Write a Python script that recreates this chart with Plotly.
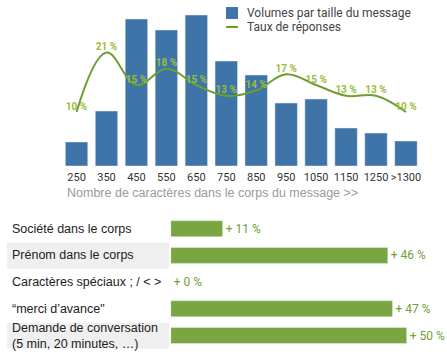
import plotly.graph_objects as go

# ---- data: top chart ----
sizes = ["250", "350", "450", "550", "650", "750", "850", "950", "1050", "1150", "1250", ">1300"]
volumes = [24, 55, 147, 136, 151, 105, 91, 63, 67, 38, 33, 25]
reply_rates = [10, 21, 15, 18, 15, 13, 14, 17, 15, 13, 13, 10]
rate_labels = [f"{v} %" for v in reply_rates]

# ---- data: bottom chart ----
features = [
    "Société dans le corps",
    "Prénom dans le corps",
    "Caractères spéciaux ; / < >",
    "“merci d’avance\"",
    "Demande de conversation<br>(5 min, 20 minutes, …)",
]
uplift = [11, 46, 0, 47, 50]
uplift_labels = [f"+ {v} %" for v in uplift]
shaded = [False, True, False, False, True]

legend_names = ["Volumes par taille du message", "Taux de réponses"]
x_title = "Nombre de caractères dans le corps du message >>"

W, H = 447, 356
BLUE = "#3e74a8"
LINE_GREEN = "#6c9f2f"
LABEL_GREEN = "#98bd3d"
BAR_GREEN = "#79a641"

def px(x):
    return x / W

def py(y):
    return 1 - y / H

fig = go.Figure()

fig.add_trace(go.Bar(
    x=sizes, y=volumes, name=legend_names[0], marker_color=BLUE,
    xaxis="x", yaxis="y", showlegend=False,
))
fig.add_trace(go.Scatter(
    x=sizes, y=reply_rates, name=legend_names[1], mode="lines+text",
    text=rate_labels, textposition="top center",
    textfont=dict(family="Roboto", size=10, color=LABEL_GREEN, weight="bold"),
    line=dict(color=LINE_GREEN, width=2, shape="spline", smoothing=1.1),
    xaxis="x", yaxis="y2", showlegend=False, cliponaxis=False,
))

fig.add_trace(go.Bar(
    x=uplift, y=features, orientation="h", marker_color=BAR_GREEN,
    text=uplift_labels, textposition="outside", cliponaxis=False,
    textfont=dict(family="Roboto", size=12, color="#72a034"),
    width=0.6, xaxis="x3", yaxis="y3", showlegend=False,
))

shapes = []
annotations = []
for i, (f, s) in enumerate(zip(features, shaded)):
    if s:
        shapes.append(dict(type="rect", xref="paper", yref="y3",
                           x0=px(7), x1=px(169), y0=i - 0.48, y1=i + 0.5,
                           fillcolor="#efefef", line_width=0, layer="below"))
    annotations.append(dict(text=f, xref="paper", yref="y3", x=px(10), y=i,
                            xanchor="left", yanchor="middle", align="left", showarrow=False,
                            font=dict(family="Liberation Sans", size=12.5, color="#222")))

# manual legend
shapes.append(dict(type="rect", xref="paper", yref="paper",
                   x0=px(226), x1=px(238), y0=py(19), y1=py(7),
                   fillcolor=BLUE, line_width=0))
shapes.append(dict(type="line", xref="paper", yref="paper",
                   x0=px(226), x1=px(238), y0=py(27), y1=py(27),
                   line=dict(color=LINE_GREEN, width=2)))
for name, yy in zip(legend_names, [13, 27]):
    annotations.append(dict(text=name, xref="paper", yref="paper", x=px(245), y=py(yy),
                            xanchor="left", yanchor="middle", showarrow=False,
                            font=dict(family="Roboto", size=12, color="#444")))

annotations.append(dict(text=x_title, xref="paper", yref="paper", x=px(65), y=py(193),
                        xanchor="left", yanchor="middle", showarrow=False,
                        font=dict(family="Liberation Sans", size=12.5, color="#9a9a9a")))

fig.update_layout(
    width=W, height=H,
    margin=dict(l=0, r=0, t=0, b=0),
    paper_bgcolor="white", plot_bgcolor="white",
    bargap=0.25,
    hovermode=False,
    xaxis=dict(domain=[px(58.25), px(424.25)], anchor="y", showgrid=False, zeroline=False,
               showline=False, ticks="", ticklabelstandoff=3, tickangle=0,
               tickfont=dict(family="Roboto", size=11, color="#333")),
    yaxis=dict(domain=[py(166), py(10)], range=[0, 156], visible=False),
    yaxis2=dict(overlaying="y", range=[0, 156 / 5.4], visible=False),
    xaxis3=dict(domain=[px(170.7), 1], anchor="y3", range=[0, 276.3 / 4.72], visible=False),
    yaxis3=dict(domain=[py(348.85), py(215.35)], anchor="x3", range=[4.5, -0.5],
                type="category", visible=False),
    shapes=shapes,
    annotations=annotations,
)

fig.write_html("out.html", config={"displayModeBar": False},
               post_script="document.body.style.margin='0';document.body.style.overflow='hidden';")
